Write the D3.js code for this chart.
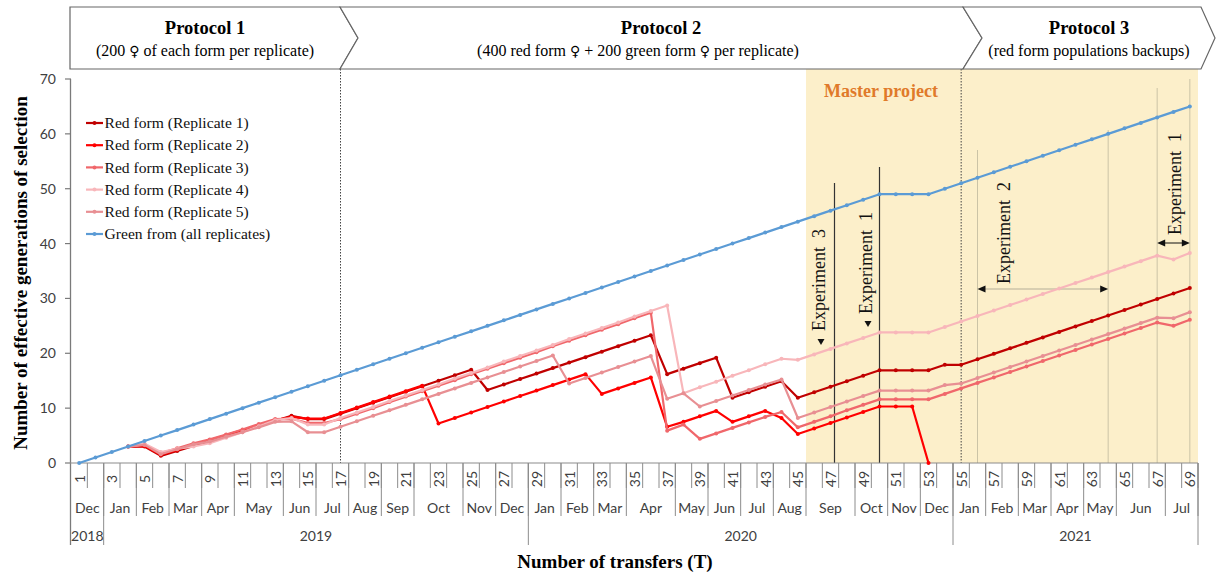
<!DOCTYPE html>
<html>
<head>
<meta charset="utf-8">
<script src="https://cdn.jsdelivr.net/npm/d3@7"></script>
<style>
  body { margin: 0; background: #fff; }
  svg { display: block; }
</style>
</head>
<body>
<svg id="chart" width="1216" height="573"></svg>
<script>
// ---- data -------------------------------------------------------------
const transfers = d3.range(1, 70); // T = 1 .. 69

const greenAll = [
  0, 1, 2, 3, 4, 5, 6, 7, 8, 9, 10, 11, 12, 13, 14, 15, 16, 17, 18, 19,
  20, 21, 22, 23, 24, 25, 26, 27, 28, 29, 30, 31, 32, 33, 34, 35, 36, 37, 38, 39,
  40, 41, 42, 43, 44, 45, 46, 47, 48, 49, 49, 49, 49, 50, 51, 52, 53, 54, 55, 56,
  57, 58, 59, 60, 61, 62, 63, 64, 65
];
const redRep1 = [
  null, null, null, 3, 3, 1.3, 2.2, 3.1, 4.0, 4.9, 5.9, 6.8, 7.7, 8.6, 8.0, 8.0, 9.0, 10, 11, 12,
  13, 14, 15, 16, 17, 13.3, 14.3, 15.3, 16.3, 17.3, 18.3, 19.3, 20.3, 21.3, 22.3, 23.3, 16.2, 17.2, 18.2, 19.2,
  11.9, 12.9, 13.9, 14.9, 11.9, 12.9, 13.9, 14.9, 15.9, 16.9, 16.9, 16.9, 16.9, 17.9, 17.9, 18.9, 19.9, 20.9, 21.9, 22.9,
  23.9, 24.9, 25.9, 26.9, 27.9, 28.9, 29.9, 30.9, 31.9
];
const redRep2 = [
  null, null, null, 3, 3.1, 1.5, 2.4, 3.3, 4.2, 5.1, 6.0, 6.9, 7.8, 8.4, 8.1, 8.1, 9.1, 10.1, 11.1, 12.1,
  13.1, 14.1, 7.2, 8.2, 9.2, 10.2, 11.2, 12.2, 13.2, 14.2, 15.2, 16.2, 12.6, 13.6, 14.6, 15.6, 6.6, 7.5, 8.5, 9.5,
  7.5, 8.5, 9.5, 8.2, 5.3, 6.3, 7.3, 8.3, 9.3, 10.3, 10.3, 10.3, 0, null, null, null, null, null, null, null,
  null, null, null, null, null, null, null, null, null
];
const redRep3 = [
  null, null, null, 3, 3.4, 1.8, 2.7, 3.6, 4.3, 5.2, 6.1, 7.1, 8.0, 8.1, 7.3, 7.3, 8.0, 9.0, 10.0, 11.1,
  12.1, 13.1, 14.1, 15.1, 16.2, 17.2, 18.2, 19.2, 20.2, 21.3, 22.3, 23.3, 24.3, 25.3, 26.4, 27.4, 5.9, 7.0, 4.4, 5.4,
  6.4, 7.4, 8.4, 9.3, 6.5, 7.5, 8.5, 9.6, 10.6, 11.6, 11.6, 11.6, 11.6, 12.6, 13.6, 14.6, 15.6, 16.6, 17.6, 18.6,
  19.6, 20.6, 21.6, 22.6, 23.6, 24.6, 25.6, 25.0, 26.1
];
const redRep4 = [
  null, null, null, 3, 3.5, 2.0, 2.6, 3.0, 3.6, 4.6, 5.6, 6.7, 7.8, 8.2, 7.0, 7.0, 8.2, 9.2, 10.2, 11.3,
  12.3, 13.3, 14.3, 15.4, 16.4, 17.4, 18.5, 19.5, 20.5, 21.5, 22.6, 23.6, 24.6, 25.6, 26.7, 27.7, 28.7, 12.7, 13.8, 14.8,
  15.9, 16.9, 18.0, 19.0, 18.8, 19.8, 20.8, 21.8, 22.8, 23.8, 23.8, 23.8, 23.8, 24.8, 25.8, 26.8, 27.8, 28.8, 29.8, 30.8,
  31.8, 32.8, 33.8, 34.8, 35.8, 36.8, 37.8, 37.1, 38.3
];
const redRep5 = [
  null, null, null, 3, 3.3, 1.6, 2.5, 3.4, 3.9, 4.8, 5.6, 6.5, 7.5, 7.6, 5.6, 5.6, 6.6, 7.6, 8.6, 9.6,
  10.6, 11.6, 12.6, 13.6, 14.6, 15.6, 16.6, 17.6, 18.6, 19.6, 14.5, 15.5, 16.5, 17.5, 18.5, 19.5, 11.7, 12.7, 10.3, 11.3,
  12.3, 13.3, 14.3, 15.2, 8.2, 9.2, 10.2, 11.2, 12.2, 13.2, 13.2, 13.2, 13.2, 14.2, 14.5, 15.5, 16.5, 17.5, 18.5, 19.5,
  20.5, 21.5, 22.5, 23.5, 24.5, 25.5, 26.5, 26.4, 27.5
];

const seriesNames = [
  "Red form (Replicate 1)", "Red form (Replicate 2)", "Red form (Replicate 3)",
  "Red form (Replicate 4)", "Red form (Replicate 5)", "Green from (all replicates)"
];
const seriesValues = [redRep1, redRep2, redRep3, redRep4, redRep5, greenAll];
const seriesColors = ["#c00000", "#ff0000", "#f0676b", "#f8b6ba", "#e88f93", "#5b9bd5"];

const yTicks = [0, 10, 20, 30, 40, 50, 60, 70];
const numberLabels = transfers.filter(t => t % 2 === 1);

const monthLabels = ["Dec", "Jan", "Feb", "Mar", "Apr", "May", "Jun", "Jul", "Aug", "Sep", "Oct", "Nov", "Dec",
  "Jan", "Feb", "Mar", "Apr", "May", "Jun", "Jul", "Aug", "Sep", "Oct", "Nov", "Dec",
  "Jan", "Feb", "Mar", "Apr", "May", "Jun", "Jul"];
const monthLastT = [2, 4, 6, 8, 10, 13, 15, 17, 19, 21, 24, 26, 28,
  30, 32, 34, 37, 39, 41, 43, 45, 48, 50, 52, 54,
  56, 58, 60, 62, 64, 67, 69];
const yearLabels = ["2018", "2019", "2020", "2021"];
const yearLastT = [2, 28, 54, 69];

const protocolTitles = ["Protocol 1", "Protocol 2", "Protocol 3"];
// each note is split at the female sign so it can be set in a font that carries it
const protocolNotes = [
  ["(200 ", "\u2640", " of each form per replicate)"],
  ["(400 red form ", "\u2640", " + 200 green form ", "\u2640", " per replicate)"],
  ["(red form populations backups)"]
];
const protocolStartT = [1, 17, 55]; // dotted boundaries at T17 and T55
const masterProjectFirstT = 46;

// ---- scales -----------------------------------------------------------
const svg = d3.select("#chart");
const plotLeft = 71, plotRight = 1198, plotTop = 79, plotBottom = 463;
const x = d3.scaleBand().domain(transfers).range([plotLeft, plotRight]).paddingInner(0).paddingOuter(0);
const bw = x.bandwidth();
const cx = t => x(t) + bw / 2;
const y = d3.scaleLinear().domain([0, 70]).range([plotBottom, plotTop]);

const serif = "'Liberation Serif', 'Times New Roman', serif";
const sans = "Lato, 'Open Sans', 'Liberation Sans', sans-serif";

// ---- master project shading -------------------------------------------
svg.append("rect")
  .attr("x", x(masterProjectFirstT)).attr("y", 69)
  .attr("width", plotRight - x(masterProjectFirstT)).attr("height", plotBottom - 69)
  .attr("fill", "#fcefca");

svg.append("text")
  .attr("x", 881).attr("y", 97)
  .attr("text-anchor", "middle")
  .attr("font-family", serif).attr("font-weight", "bold").attr("font-size", 18)
  .attr("fill", "#e07a2a")
  .text("Master project");

// ---- protocol boundaries (dotted) --------------------------------------
svg.selectAll("line.proto")
  .data(protocolStartT.slice(1))
  .join("line")
  .attr("x1", d => cx(d)).attr("x2", d => cx(d))
  .attr("y1", 69).attr("y2", plotBottom)
  .attr("stroke", "#444").attr("stroke-width", 1)
  .attr("stroke-dasharray", "1.5,1.5");

// ---- experiment markers ----------------------------------------------
const g = svg.append("g");
// Experiment 3 / Experiment 1 (Master project)
const exp3X = cx(47) + 4, exp1X = cx(50);
g.append("line").attr("x1", exp3X).attr("x2", exp3X).attr("y1", 183).attr("y2", plotBottom)
  .attr("stroke", "#333").attr("stroke-width", 1.2);
g.append("line").attr("x1", exp1X).attr("x2", exp1X).attr("y1", 167).attr("y2", plotBottom)
  .attr("stroke", "#333").attr("stroke-width", 1.2);

// Experiment 2 (T56 - T64) and Experiment 1 (T67 - T69)
const e2a = cx(56), e2b = cx(64), e1a = cx(67), e1b = cx(69);
[[e2a, 150], [e2b, 130], [e1a, 88], [e1b, 79]].forEach(([xx, top]) => {
  g.append("line").attr("x1", xx).attr("x2", xx).attr("y1", top).attr("y2", plotBottom)
    .attr("stroke", "#cbc3a6").attr("stroke-width", 1);
});

function arrow(xa, xb, yy, col) {
  g.append("line").attr("x1", xa + 6).attr("x2", xb - 6).attr("y1", yy).attr("y2", yy)
    .attr("stroke", col).attr("stroke-width", 1);
  g.append("path").attr("d", `M${xa},${yy}L${xa + 8},${yy - 3.5}L${xa + 8},${yy + 3.5}Z`).attr("fill", "#111");
  g.append("path").attr("d", `M${xb},${yy}L${xb - 8},${yy - 3.5}L${xb - 8},${yy + 3.5}Z`).attr("fill", "#111");
}
arrow(e2a, e2b, 289, "#b5ae98");
arrow(e1a, e1b, 243, "#111");

function vText(xx, yy, txt) {
  g.append("text")
    .attr("transform", `translate(${xx},${yy}) rotate(-90)`)
    .attr("font-family", serif).attr("font-size", 18).attr("fill", "#111")
    .attr("xml:space", "preserve")
    .text(txt);
}
vText(825, 331, "Experiment  3");
vText(872, 314, "Experiment  1");
vText(1010, 284, "Experiment  2");
vText(1181, 235, "Experiment  1");
// small pointers in front of the two Master project labels
[[821, 342], [868, 324]].forEach(([px, py]) => {
  g.append("path").attr("d", `M${px - 3.5},${py - 3}L${px + 3.5},${py - 3}L${px},${py + 3}Z`).attr("fill", "#111");
});

// ---- axes -------------------------------------------------------------
const axisCol = "#8c8c8c";
// y axis
svg.append("line").attr("x1", plotLeft - 0.5).attr("x2", plotLeft - 0.5).attr("y1", plotTop).attr("y2", 545)
  .attr("stroke", "#7a7a7a").attr("stroke-width", 1.3);
svg.selectAll("line.yt").data(yTicks).join("line")
  .attr("x1", plotLeft - 6).attr("x2", plotLeft).attr("y1", d => y(d)).attr("y2", d => y(d))
  .attr("stroke", "#7a7a7a").attr("stroke-width", 1.2);
svg.selectAll("text.yl").data(yTicks).join("text")
  .attr("x", 56).attr("y", d => y(d)).attr("dy", "0.36em")
  .attr("text-anchor", "end")
  .attr("font-family", sans).attr("font-size", 14).attr("fill", "#404040")
  .text(d => d);

// x axis line
svg.append("line").attr("x1", plotLeft - 1).attr("x2", plotRight).attr("y1", plotBottom).attr("y2", plotBottom)
  .attr("stroke", axisCol).attr("stroke-width", 1.2);

// row 1: transfer numbers with separators at each category boundary
svg.selectAll("line.r1").data(transfers).join("line")
  .attr("x1", d => x(d) + bw).attr("x2", d => x(d) + bw)
  .attr("y1", plotBottom).attr("y2", 488)
  .attr("stroke", axisCol).attr("stroke-width", 1);
svg.selectAll("text.num").data(numberLabels).join("text")
  .attr("transform", d => `translate(${cx(d)},479) rotate(-90)`)
  .attr("text-anchor", "middle").attr("dominant-baseline", "central")
  .attr("font-family", sans).attr("font-size", 14).attr("fill", "#404040")
  .text(d => d);

// row 2: months
const monthSpans = monthLabels.map((m, i) => ({
  label: m, first: i === 0 ? 1 : monthLastT[i - 1] + 1, last: monthLastT[i]
}));
svg.selectAll("line.r2").data(monthSpans).join("line")
  .attr("x1", d => x(d.last) + bw).attr("x2", d => x(d.last) + bw)
  .attr("y1", plotBottom).attr("y2", 516)
  .attr("stroke", axisCol).attr("stroke-width", 1);
svg.selectAll("text.mon").data(monthSpans).join("text")
  .attr("x", d => (x(d.first) + x(d.last) + bw) / 2).attr("y", 507)
  .attr("text-anchor", "middle").attr("dominant-baseline", "central")
  .attr("font-family", sans).attr("font-size", 14).attr("fill", "#404040")
  .text(d => d.label);

// row 3: years
const yearSpans = yearLabels.map((yv, i) => ({
  label: yv, first: i === 0 ? 1 : yearLastT[i - 1] + 1, last: yearLastT[i]
}));
svg.selectAll("line.r3").data(yearSpans).join("line")
  .attr("x1", d => x(d.last) + bw).attr("x2", d => x(d.last) + bw)
  .attr("y1", plotBottom).attr("y2", 545)
  .attr("stroke", axisCol).attr("stroke-width", 1);
svg.selectAll("text.yr").data(yearSpans).join("text")
  .attr("x", d => (x(d.first) + x(d.last) + bw) / 2).attr("y", 535)
  .attr("text-anchor", "middle").attr("dominant-baseline", "central")
  .attr("font-family", sans).attr("font-size", 14).attr("fill", "#404040")
  .text(d => d.label);

// axis titles
svg.append("text").attr("x", 615).attr("y", 568).attr("text-anchor", "middle")
  .attr("font-family", serif).attr("font-weight", "bold").attr("font-size", 19)
  .text("Number of transfers (T)");
svg.append("text").attr("transform", "translate(27,273) rotate(-90)").attr("text-anchor", "middle")
  .attr("font-family", serif).attr("font-weight", "bold").attr("font-size", 19)
  .text("Number of effective generations of selection");

// ---- series -----------------------------------------------------------
const line = d3.line()
  .defined(d => d.v != null)
  .x(d => cx(d.t)).y(d => y(d.v));
const series = seriesValues.map((vals, i) => ({
  name: seriesNames[i], color: seriesColors[i],
  pts: vals.map((v, j) => ({ t: transfers[j], v }))
}));
const sg = svg.append("g");
series.forEach(s => {
  sg.append("path").attr("d", line(s.pts)).attr("fill", "none")
    .attr("stroke", s.color).attr("stroke-width", 2.2).attr("stroke-linejoin", "round");
  sg.selectAll(null).data(s.pts.filter(p => p.v != null)).join("circle")
    .attr("cx", p => cx(p.t)).attr("cy", p => y(p.v)).attr("r", 2)
    .attr("fill", s.color);
});

// ---- legend -----------------------------------------------------------
const lg = svg.append("g");
series.forEach((s, i) => {
  const ly = 123 + i * 22.2;
  lg.append("line").attr("x1", 86).attr("x2", 103).attr("y1", ly).attr("y2", ly)
    .attr("stroke", s.color).attr("stroke-width", 2.2);
  lg.append("circle").attr("cx", 94.5).attr("cy", ly).attr("r", 2).attr("fill", s.color);
  lg.append("text").attr("x", 104.5).attr("y", ly).attr("dy", "0.33em")
    .attr("font-family", serif).attr("font-size", 15.6).attr("fill", "#111")
    .text(s.name);
});

// ---- protocol header --------------------------------------------------
const hTop = 7, hBot = 69, hMid = 38;
const boxes = [
  { a: 70, b: 340, tip: 358, notch: null, cxT: 205, cxN: 205 },
  { a: 340, b: 963, tip: 982, notch: 358, cxT: 661, cxN: 638 },
  { a: 963, b: 1201, tip: 1215, notch: 982, cxT: 1089, cxN: 1089 }
];
boxes.forEach((bx, i) => {
  const path = `M${bx.a},${hTop}L${bx.b},${hTop}L${bx.tip},${hMid}L${bx.b},${hBot}L${bx.a},${hBot}` +
    (bx.notch == null ? "Z" : `L${bx.notch},${hMid}Z`);
  svg.append("path").attr("d", path).attr("fill", "#fff")
    .attr("stroke", "#666").attr("stroke-width", 1.2);
  svg.append("text").attr("x", bx.cxT).attr("y", 34).attr("text-anchor", "middle")
    .attr("font-family", serif).attr("font-weight", "bold").attr("font-size", 18.5)
    .text(protocolTitles[i]);
  const note = svg.append("text").attr("x", bx.cxN).attr("y", 56).attr("text-anchor", "middle")
    .attr("font-family", serif).attr("font-size", 16)
    .attr("xml:space", "preserve");
  protocolNotes[i].forEach(part => {
    const ts = note.append("tspan").text(part);
    if (part === "\u2640") ts.attr("font-family", "'DejaVu Sans', sans-serif").attr("font-size", 14);
  });
});
</script>
</body>
</html>
